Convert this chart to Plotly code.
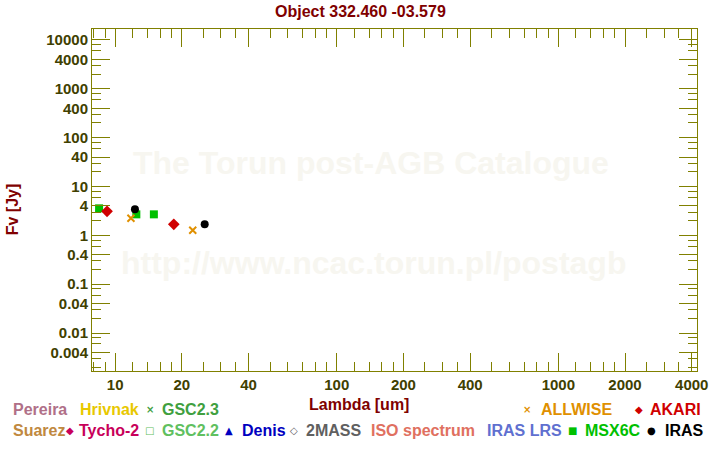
import plotly.graph_objects as go
import numpy as np

# ---- data ----
msx_wl = [8.46, 12.46, 14.95]
msx_fl = [3.57, 2.69, 2.69]
akari_wl = [9.19, 18.39]
akari_fl = [3.10, 1.68]
iras_wl = [12.28, 25.35]
iras_fl = [3.41, 1.68]
wise_wl = [11.78, 22.39]
wise_fl = [2.23, 1.27]

x_ticks = [10, 20, 40, 100, 200, 400, 1000, 2000, 4000]
y_ticks = [0.004, 0.01, 0.04, 0.1, 0.4, 1, 4, 10, 40, 100, 400, 1000, 4000, 10000]
y_ticktext = ["0.004", "0.01", "0.04", "0.1", "0.4", "1", "4", "10", "40", "100", "400", "1000", "4000", "10000"]
x_minor = [m * d for d in [1, 10, 100, 1000] for m in [1.2, 1.4, 1.6, 1.8, 2.5, 3, 3.5, 5, 6, 7, 8, 9]]
y_minor = [m * d for d in [0.001, 0.01, 0.1, 1, 10, 100, 1000, 10000] for m in [2, 3, 6, 8]]

title_text = "Object 332.460 -03.579"

OLIVE = "#808000"
TICKFONT = dict(family="Liberation Sans, Arial", size=15, color="#404000", weight="bold")
FONT = "Liberation Sans, Arial"

L, R, T, B = 92, 699, 29, 371
W, H = 720, 450


def px(xp):
    return (xp - L) / (R - L)


def py(yp):
    return (B - yp) / (B - T)


fig = go.Figure()
fig.add_trace(go.Scatter(x=msx_wl, y=msx_fl, mode="markers",
                         marker=dict(symbol="square", size=8, color="#00c000", line=dict(width=0))))
fig.add_trace(go.Scatter(x=akari_wl, y=akari_fl, mode="markers",
                         marker=dict(symbol="diamond", size=9, color="#d00000", line=dict(width=0))))
fig.add_trace(go.Scatter(x=iras_wl, y=iras_fl, mode="markers",
                         marker=dict(symbol="circle", size=8, color="#000000", line=dict(width=0))))
fig.add_trace(go.Scatter(x=wise_wl, y=wise_fl, mode="markers",
                         marker=dict(symbol="x-thin", size=7, color="#e09000",
                                     line=dict(width=2, color="#e09000"))))

axis_common = dict(showline=True, linecolor=OLIVE, linewidth=1, mirror="allticks",
                   ticks="inside", ticklen=18, tickcolor=OLIVE, tickwidth=1,
                   showgrid=False, zeroline=False, tickfont=TICKFONT)

fig.update_xaxes(type="log", range=[np.log10(7.86), np.log10(4225)],
                 tickvals=x_ticks, ticktext=[str(v) for v in x_ticks],
                 minor=dict(tickvals=x_minor, ticklen=9, tickcolor=OLIVE, ticks="inside", showgrid=False),
                 **axis_common)
fig.update_yaxes(type="log", range=[-2.778, 4.225],
                 tickvals=y_ticks, ticktext=y_ticktext,
                 minor=dict(tickvals=y_minor, ticklen=9, tickcolor=OLIVE, ticks="inside", showgrid=False),
                 **axis_common)

ann = []
# watermark
ann.append(dict(x=px(372), y=py(163), text="The Torun post-AGB Catalogue"))
ann.append(dict(x=px(374), y=py(263), text="http://www.ncac.torun.pl/postagb"))
for a in ann:
    a.update(xref="paper", yref="paper", showarrow=False, xanchor="center", yanchor="middle",
             font=dict(family=FONT, size=32, color="#f7f6f0", weight="bold"))

# titles
ann.append(dict(x=px(361), y=py(11), text=title_text, xref="paper", yref="paper", showarrow=False,
                xanchor="center", yanchor="middle",
                font=dict(family=FONT, size=16, color="#800000", weight="bold")))
ann.append(dict(x=px(360), y=py(404), text="Lambda [um]", xref="paper", yref="paper", showarrow=False,
                xanchor="center", yanchor="middle",
                font=dict(family=FONT, size=16, color="#800000", weight="bold")))
ann.append(dict(x=px(12), y=py(209), text="Fv [Jy]", textangle=-90, xref="paper", yref="paper",
                showarrow=False, xanchor="center", yanchor="middle",
                font=dict(family=FONT, size=16, color="#800000", weight="bold")))

# legend entries: (symbol, symbol x center, text, text left x, y center, colour)
legend = [
    ("", 0, "Pereira", 11, 410, "#b07088"),
    ("", 0, "Hrivnak", 78, 410, "#e8c800"),
    ("×", 150, "GSC2.3", 160, 410, "#40a040"),
    ("×", 528, "ALLWISE", 540, 410, "#e09000"),
    ("◆", 641, "AKARI", 650, 410, "#d00000"),
    ("", 0, "Suarez", 11, 430, "#c08840"),
    ("◆", 70, "Tycho-2", 77, 430, "#c8005a"),
    ("□", 150, "GSC2.2", 160, 430, "#60c060"),
    ("▲", 229, "Denis", 240, 430, "#0000c0"),
    ("◇", 295, "2MASS", 305, 430, "#606060"),
    ("", 0, "ISO spectrum", 370, 430, "#e07060"),
    ("", 0, "IRAS LRS", 486, 430, "#6070d0"),
    ("■", 574, "MSX6C", 585, 430, "#00c000"),
    ("●", 653, "IRAS", 665, 430, "#000000"),
]
for sym, sx, txt, tx, ty, col in legend:
    if sym:
        ann.append(dict(x=px(sx), y=py(ty), text=sym, xref="paper", yref="paper", showarrow=False,
                        xanchor="center", yanchor="middle",
                        font=dict(family="DejaVu Sans", size=10, color=col, weight="bold")))
    ann.append(dict(x=px(tx), y=py(ty), text=txt, xref="paper", yref="paper", showarrow=False,
                    xanchor="left", yanchor="middle",
                    font=dict(family=FONT, size=16, color=col, weight="bold")))

fig.update_layout(width=W, height=H, margin=dict(l=L, r=W - R, t=T, b=H - B),
                  paper_bgcolor="white", plot_bgcolor="white", showlegend=False,
                  annotations=ann)

fig.write_html("out.html")
